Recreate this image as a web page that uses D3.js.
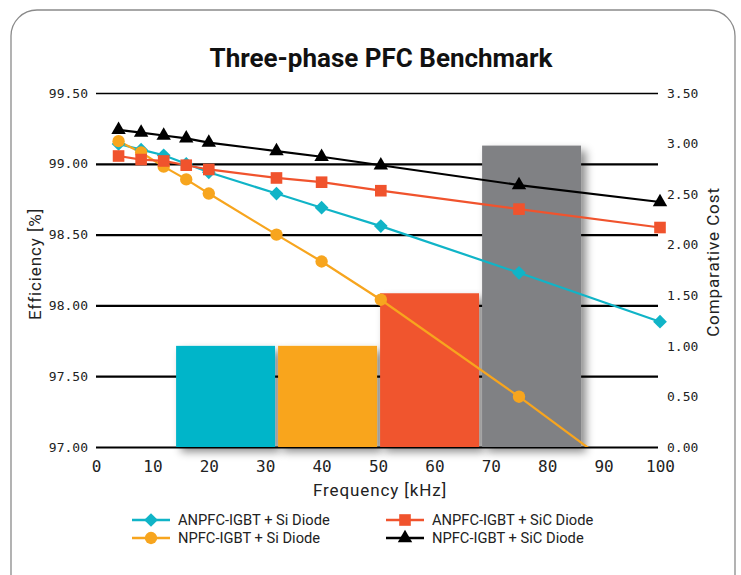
<!DOCTYPE html>
<html>
<head>
<meta charset="utf-8">
<script src="https://cdn.jsdelivr.net/npm/d3@7"></script>
<style>
  body { margin: 0; background: #fff; }
  svg { display: block; }
  .tick text { fill: #222; }
</style>
</head>
<body>
<div id="chart"></div>
<script>
// frequency points (kHz)
var freq = [4, 8, 12, 16, 20, 32, 40, 50.5, 75, 100];

// efficiency (%) per topology
var anpfcSi  = [99.14, 99.10, 99.06, 99.00, 98.94, 98.79, 98.69, 98.56, 98.23, 97.885];
var anpfcSiC = [99.055, 99.03, 99.02, 98.99, 98.96, 98.90, 98.87, 98.81, 98.68, 98.55];
var npfcSi   = [99.16, 99.08, 98.98, 98.89, 98.79, 98.50, 98.31, 98.04, 97.355, 96.62];
var npfcSiC  = [99.24, 99.22, 99.20, 99.18, 99.15, 99.09, 99.05, 98.99, 98.85, 98.73];

// comparative cost bars
var costNames  = ["ANPFC-IGBT + Si Diode", "NPFC-IGBT + Si Diode", "ANPFC-IGBT + SiC Diode", "NPFC-IGBT + SiC Diode"];
var costValues = [1.00, 1.00, 1.52, 2.98];

var effTicks  = [97.0, 97.5, 98.0, 98.5, 99.0, 99.5];
var costTicks = [0, 0.5, 1, 1.5, 2, 2.5, 3, 3.5];
var freqTicks = [0, 10, 20, 30, 40, 50, 60, 70, 80, 90, 100];

var width = 741;
var height = 575;
var plotL = 96, plotR = 660, plotT = 93, plotB = 447;

var monoFont = "'DejaVu Sans Mono', monospace";
var textFont = "Roboto, 'Noto Sans', sans-serif";

var series = [
  {name: "ANPFC-IGBT + Si Diode",  values: anpfcSi,  color: "#10b4c7", symbol: d3.symbolDiamond2, size: 120},
  {name: "NPFC-IGBT + Si Diode",   values: npfcSi,   color: "#f7a51e", symbol: d3.symbolCircle,   size: 120},
  {name: "ANPFC-IGBT + SiC Diode", values: anpfcSiC, color: "#f0532d", symbol: d3.symbolSquare,   size: 135},
  {name: "NPFC-IGBT + SiC Diode",  values: npfcSiC,  color: "#000000", symbol: d3.symbolTriangle, size: 90}
];
var barColors = ["#00b5c9", "#f9a51d", "#f0552f", "#808184"];

/* Scales */
var xScale = d3.scaleLinear().domain([0, 100]).range([plotL, plotR]);
var yScale = d3.scaleLinear().domain([97, 99.5]).range([plotB, plotT]);
var y2Scale = d3.scaleLinear().domain([0, 3.5]).range([plotB, plotT]);
var band = d3.scaleBand()
  .domain(costNames)
  .range([xScale(14.2), xScale(86)])
  .paddingInner(0.03);

var svg = d3.select("#chart").append("svg")
  .attr("width", width)
  .attr("height", height);

var defs = svg.append("defs");
var shadow = defs.append("filter")
  .attr("id", "shadow")
  .attr("x", "-20%").attr("y", "-20%")
  .attr("width", "150%").attr("height", "150%");
shadow.append("feDropShadow")
  .attr("dx", 5).attr("dy", 5)
  .attr("stdDeviation", 4)
  .attr("flood-color", "#000")
  .attr("flood-opacity", 0.45);

defs.append("clipPath").attr("id", "plotClip")
  .append("rect")
  .attr("x", plotL - 10).attr("y", plotT - 10)
  .attr("width", plotR - plotL + 20).attr("height", plotB - plotT + 10);

/* frame */
svg.append("rect")
  .attr("x", 11).attr("y", 10)
  .attr("width", 724).attr("height", 600)
  .attr("rx", 26).attr("ry", 26)
  .attr("fill", "#fff")
  .attr("stroke", "#8a8a8a")
  .attr("stroke-width", 1.3);

svg.append("text")
  .attr("x", 381).attr("y", 67)
  .attr("text-anchor", "middle")
  .style("font-family", textFont)
  .style("font-weight", "bold")
  .style("font-size", "26px")
  .attr("fill", "#111")
  .text("Three-phase PFC Benchmark");

/* Left axis with gridlines */
var yAxis = d3.axisLeft(yScale)
  .tickValues(effTicks)
  .tickFormat(d3.format(".2f"))
  .tickSize(-(plotR - 2 - plotL))
  .tickPadding(8);

var gy = svg.append("g")
  .attr("transform", `translate(${plotL},0)`)
  .call(yAxis);
gy.select(".domain").remove();
gy.selectAll(".tick line")
  .attr("stroke", "#000")
  .attr("stroke-width", d => d === 99.5 ? 1.3 : 2.2);
gy.selectAll(".tick text")
  .style("font-family", monoFont)
  .style("font-size", "13px");

/* Right axis */
var y2Axis = d3.axisRight(y2Scale)
  .tickValues(costTicks)
  .tickFormat(d3.format(".2f"))
  .tickSize(0)
  .tickPadding(7);

var gy2 = svg.append("g")
  .attr("transform", `translate(${plotR},0)`)
  .call(y2Axis);
gy2.select(".domain").remove();
gy2.selectAll(".tick text")
  .style("font-family", monoFont)
  .style("font-size", "13px");

/* Bottom axis */
var xAxis = d3.axisBottom(xScale)
  .tickValues(freqTicks)
  .tickSize(0)
  .tickPadding(14);

var gx = svg.append("g")
  .attr("transform", `translate(0,${plotB})`)
  .call(xAxis);
gx.select(".domain").remove();
gx.selectAll(".tick text")
  .style("font-family", monoFont)
  .style("font-size", "16px");

/* Bars (cost) */
svg.append("g")
  .selectAll("rect")
  .data(costValues).enter()
  .append("rect")
  .attr("x", (d, i) => band(costNames[i]))
  .attr("y", d => y2Scale(d))
  .attr("width", band.bandwidth())
  .attr("height", d => plotB - y2Scale(d))
  .attr("fill", (d, i) => barColors[i])
  .attr("filter", "url(#shadow)");

/* Lines */
var line = d3.line()
  .x((d, i) => xScale(freq[i]))
  .y(d => yScale(d));

var lines = svg.append("g").attr("clip-path", "url(#plotClip)");

lines.selectAll(".line")
  .data(series).enter()
  .append("path")
  .attr("class", "line")
  .attr("d", d => line(d.values))
  .attr("fill", "none")
  .attr("stroke", d => d.color)
  .attr("stroke-width", 2.2);

series.forEach(function(s) {
  lines.append("g")
    .selectAll("path")
    .data(s.values.map((v, i) => ({f: freq[i], v: v})).filter(d => d.v >= 97))
    .enter()
    .append("path")
    .attr("transform", d => `translate(${xScale(d.f)},${yScale(d.v)})`)
    .attr("d", d3.symbol().type(s.symbol).size(s.size))
    .attr("fill", s.color);
});

/* Axis titles */
function axisTitle(sel) {
  sel.attr("text-anchor", "middle")
    .style("font-family", textFont)
    .style("font-size", "17px")
    .style("letter-spacing", "0.9px")
    .attr("fill", "#222");
}

svg.append("text")
  .attr("transform", "translate(41,264) rotate(-90)")
  .call(axisTitle)
  .text("Efficiency [%]");

svg.append("text")
  .attr("transform", "translate(719,262) rotate(-90)")
  .call(axisTitle)
  .text("Comparative Cost");

svg.append("text")
  .attr("x", 380).attr("y", 496)
  .call(axisTitle)
  .text("Frequency [kHz]");

/* Legend */
var legendPos = [[132, 520], [132, 538], [386, 520], [386, 538]];
var legend = svg.selectAll(".legend")
  .data(series).enter()
  .append("g")
  .attr("class", "legend")
  .attr("transform", (d, i) => `translate(${legendPos[i][0]},${legendPos[i][1]})`);

legend.append("line")
  .attr("x1", 0).attr("x2", 38)
  .attr("stroke", d => d.color)
  .attr("stroke-width", 2.5);

legend.append("path")
  .attr("transform", "translate(19,0)")
  .attr("d", d => d3.symbol().type(d.symbol).size(d.size)())
  .attr("fill", d => d.color);

legend.append("text")
  .attr("x", 46)
  .attr("dy", "0.35em")
  .style("font-family", textFont)
  .style("font-size", "14.7px")
  .attr("fill", "#222")
  .text(d => d.name);
</script>
</body>
</html>
